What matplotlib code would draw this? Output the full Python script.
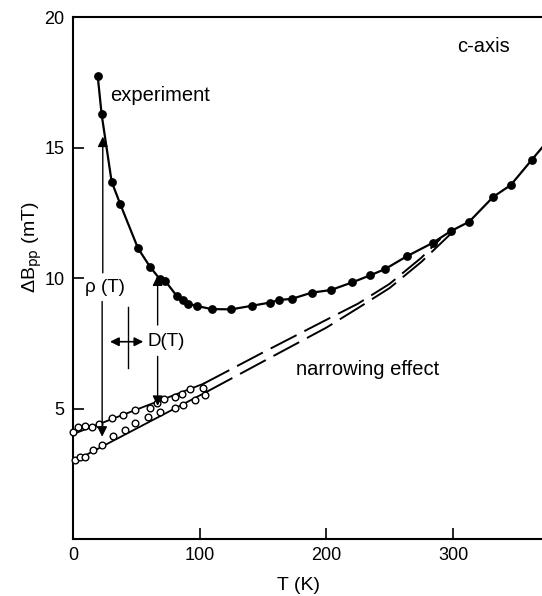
import matplotlib
matplotlib.use("Agg")
import matplotlib.pyplot as plt

plt.rcParams['font.family'] = ['Liberation Sans', 'DejaVu Sans']

# experiment (filled circles)
exp_T = [19.5, 22.6, 30.5, 37.4, 51.3, 60.8, 68.7, 72.6, 81.8, 87, 91, 97.6, 109.5, 125,
         141.5, 155.5, 162.5, 172.6, 188.4, 203.5, 220.2, 234.4, 246.2, 263.4, 284, 298,
         312.8, 331.7, 345.5, 362]
exp_B = [17.74, 16.27, 13.69, 12.82, 11.14, 10.43, 9.95, 9.9, 9.32, 9.14, 9.02, 8.93, 8.81, 8.8,
         8.94, 9.06, 9.16, 9.2, 9.44, 9.54, 9.83, 10.1, 10.34, 10.83, 11.35, 11.79,
         12.16, 13.11, 13.56, 14.52]
# continuation of the experiment curve to the frame edge
curve_end_T = [372]
curve_end_B = [15.1]

# narrowing-effect data (open circles)
up_T = [0.3, 4.2, 9.5, 14.7, 20.8, 30.5, 39.2, 48.9, 60.8, 66, 71.8, 80.5, 85.8, 92.3, 102.8]
up_B = [4.11, 4.3, 4.34, 4.28, 4.4, 4.62, 4.75, 4.94, 5.01, 5.2, 5.35, 5.45, 5.55, 5.73, 5.8]
lo_T = [1.6, 5.5, 9.5, 16, 22.6, 31.8, 41, 48.9, 59.4, 68.7, 80.5, 87, 96.3, 104]
lo_B = [3.03, 3.15, 3.15, 3.41, 3.6, 3.96, 4.18, 4.43, 4.69, 4.88, 5.03, 5.13, 5.33, 5.52]

# solid fit lines through open circles
up_fit_T = [0, 103]
up_fit_B = [4.02, 5.95]
lo_fit_T = [0, 105.5]
lo_fit_B = [2.96, 5.64]

# dashed extrapolations
up_dash_T = [103, 150, 200, 225, 250, 275, 290]
up_dash_B = [5.95, 7.15, 8.4, 9.02, 9.78, 10.78, 11.5]
lo_dash_T = [105.5, 150, 200, 225, 250, 275, 300]
lo_dash_B = [5.64, 6.8, 8.1, 8.85, 9.62, 10.62, 11.78]

xticks = [0, 100, 200, 300]
yticks = [5, 10, 15, 20]

fig = plt.figure(figsize=(5.42, 5.96), dpi=100)
ax = fig.add_axes([0.1347, 0.0956, 0.8653, 0.8758])

ax.plot(exp_T + curve_end_T, exp_B + curve_end_B, '-', color='k', lw=1.6, zorder=3)
ax.plot(exp_T, exp_B, 'o', color='k', ms=5.3, zorder=4)

ax.plot(up_fit_T, up_fit_B, '-', color='k', lw=1.3, zorder=2)
ax.plot(lo_fit_T, lo_fit_B, '-', color='k', lw=1.3, zorder=2)
ax.plot(up_dash_T, up_dash_B, '--', color='k', lw=1.4, dashes=(15, 4.5), zorder=2)
ax.plot(lo_dash_T, lo_dash_B, '--', color='k', lw=1.4, dashes=(15, 4.5), zorder=2)
ax.plot(up_T, up_B, 'o', mfc='white', mec='k', mew=1.0, ms=4.8, zorder=4, clip_on=False)
ax.plot(lo_T, lo_B, 'o', mfc='white', mec='k', mew=1.0, ms=4.8, zorder=4, clip_on=False)

ap = dict(arrowstyle='-|>', color='k', lw=1.0, mutation_scale=15, shrinkA=0, shrinkB=0)
# rho(T) arrows
ax.annotate('', xy=(23.5, 15.42), xytext=(23.5, 10.2), arrowprops=ap, zorder=5)
ax.annotate('', xy=(23.0, 3.92), xytext=(23.0, 9.1), arrowprops=ap, zorder=5)
ax.text(25, 9.65, 'ρ (T)', fontsize=13.5, ha='center', va='center')
# D(T) arrows
ax.annotate('', xy=(66.8, 10.1), xytext=(66.8, 8.2), arrowprops=ap, zorder=5)
ax.annotate('', xy=(66.8, 5.1), xytext=(66.8, 7.0), arrowprops=ap, zorder=5)
ax.plot([43.1, 43.1], [6.55, 8.9], '-', color='k', lw=1.0)
ap2 = dict(arrowstyle='<|-|>', color='k', lw=1.2, mutation_scale=13, shrinkA=0, shrinkB=0)
ax.annotate('', xy=(29.2, 7.56), xytext=(55.5, 7.56), arrowprops=ap2, zorder=5)
ax.text(58.5, 7.56, 'D(T)', fontsize=13.5, ha='left', va='center')

ax.text(29, 17.0, 'experiment', fontsize=14.5, ha='left', va='center')
ax.text(303, 18.86, 'c-axis', fontsize=14.5, ha='left', va='center')
ax.text(176, 6.5, 'narrowing effect', fontsize=14.5, ha='left', va='center')

ax.set_xlim(0, 370.2)
ax.set_ylim(0, 20)
ax.set_xticks(xticks)
ax.set_yticks(yticks)
ax.tick_params(direction='in', length=8, width=1.2, labelsize=13, pad=6)
ax.spines['right'].set_visible(False)
for s in ['left', 'bottom', 'top']:
    ax.spines[s].set_linewidth(1.5)

ax.set_xlabel('T (K)', fontsize=14)
ax.xaxis.set_label_coords(0.48, -0.073)
ax.set_ylabel('ΔB$_{\\mathrm{pp}}$ (mT)', fontsize=14)
ax.yaxis.set_label_coords(-0.062, 0.559)

fig.savefig('out.png', dpi=100)
